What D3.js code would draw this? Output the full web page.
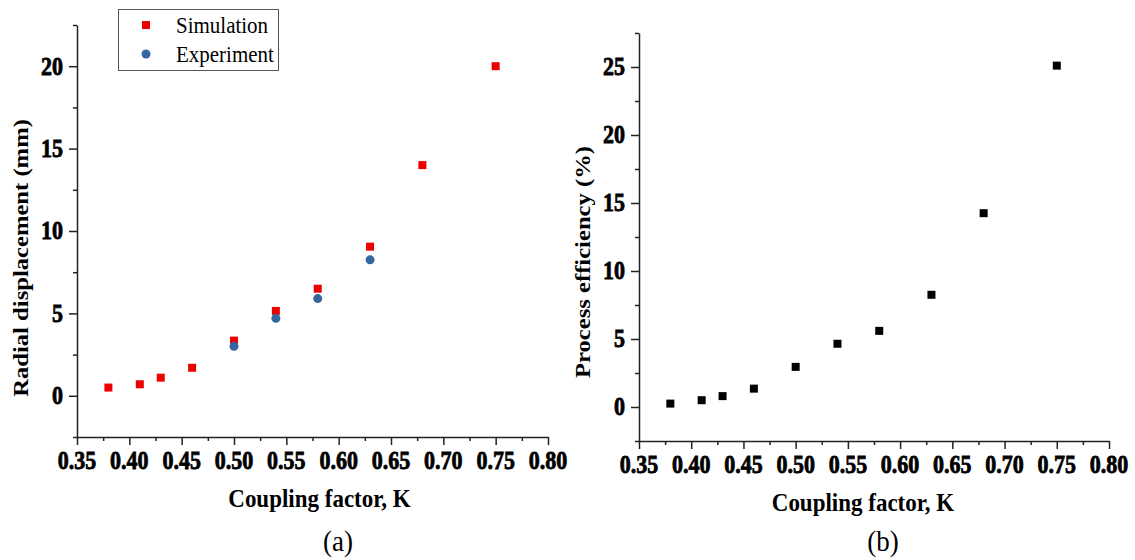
<!DOCTYPE html>
<html>
<head>
<meta charset="utf-8">
<style>
    body { margin: 0; background: #fff; }
    svg text { font-family: "Liberation Serif", "Times New Roman", serif; fill: #000; }
    .axis path, .axis line { stroke: #222; stroke-width: 1.5px; }
    .stretch { transform-box: fill-box; transform-origin: center; transform: scaleY(1.12); }
    .stretchx { transform-box: fill-box; transform-origin: center; transform: scaleX(1.12); }
    .tick-label { font-size: 22px; font-weight: 700; stroke: #000; stroke-width: 0.7px; }
</style>
</head>
<body>
<svg width="1135" height="560"></svg>
<script src="https://d3js.org/d3.v7.min.js"></script>
<script>
    // data
    var couplingK = [0.38, 0.41, 0.43, 0.46, 0.50, 0.54, 0.58, 0.63, 0.68, 0.75];
    var simDisp = [0.5, 0.7, 1.1, 1.7, 3.35, 5.15, 6.5, 9.05, 14.0, 20.0];
    var expK = [0.50, 0.54, 0.58, 0.63];
    var expDisp = [3.0, 4.7, 5.9, 8.25];
    var efficiency = [0.25, 0.5, 0.8, 1.35, 2.95, 4.65, 5.6, 8.25, 14.25, 25.1];

    var xTicks = [0.35, 0.40, 0.45, 0.50, 0.55, 0.60, 0.65, 0.70, 0.75, 0.80];
    var xMinor = [0.375, 0.425, 0.475, 0.525, 0.575, 0.625, 0.675, 0.725, 0.775];
    var dispTicks = [0, 5, 10, 15, 20];
    var dispMinor = [-2.5, 2.5, 7.5, 12.5, 17.5, 22.5];
    var effTicks = [0, 5, 10, 15, 20, 25];
    var effMinor = [-2.5, 2.5, 7.5, 12.5, 17.5, 22.5, 27.5];

    var legendNames = ["Simulation", "Experiment"];
    var legendColors = ["#ee0000", "#34679f"];

    var svg = d3.select("svg");

    function panel(p) {
        var x = d3.scaleLinear().domain([0.35, 0.80]).range([p.left, p.right]);
        var y = d3.scaleLinear().domain(p.yDomain).range([p.bottom, p.top]);
        var g = svg.append("g");

        // minor ticks
        g.append("g").attr("class", "axis")
            .attr("transform", "translate(0," + p.bottom + ")")
            .call(d3.axisBottom(x).tickValues(xMinor).tickSize(4).tickFormat(""))
            .select(".domain").remove();
        g.append("g").attr("class", "axis")
            .attr("transform", "translate(" + p.left + ",0)")
            .call(d3.axisLeft(y).tickValues(p.yMinor).tickSize(4).tickFormat(""))
            .select(".domain").remove();

        // major ticks + axis lines
        g.append("g").attr("class", "axis")
            .attr("transform", "translate(0," + p.bottom + ")")
            .call(d3.axisBottom(x).tickValues(xTicks).tickSizeInner(8).tickSizeOuter(0).tickFormat(""));
        g.append("g").attr("class", "axis")
            .attr("transform", "translate(" + p.left + ",0)")
            .call(d3.axisLeft(y).tickValues(p.yTicks).tickSizeInner(8).tickSizeOuter(0).tickFormat(""));

        // tick labels
        g.append("g").selectAll("text")
            .data(xTicks)
            .enter().append("text")
            .attr("class", "tick-label stretch")
            .attr("x", function(d) { return x(d); })
            .attr("y", p.bottom + 31)
            .attr("text-anchor", "middle")
            .text(d3.format(".2f"));

        g.append("g").selectAll("text")
            .data(p.yTicks)
            .enter().append("text")
            .attr("class", "tick-label stretch")
            .attr("x", p.left - 14)
            .attr("y", function(d) { return y(d); })
            .attr("dy", "0.34em")
            .attr("text-anchor", "end")
            .text(d3.format("d"));

        // axis titles
        g.append("text")
            .attr("class", "stretch")
            .attr("x", (p.left + p.right) / 2 + p.xLabelShift)
            .attr("y", p.bottom + 69)
            .attr("text-anchor", "middle")
            .style("font-size", "23px").style("font-weight", "700")
            .text("Coupling factor, K");

        g.append("g")
            .attr("transform", "translate(" + p.yLabelX + "," + p.yLabelY + ") rotate(-90)")
            .append("text")
            .attr("class", "stretchx")
            .attr("text-anchor", "middle")
            .style("font-size", "22px").style("font-weight", "700")
            .text(p.yLabel);

        g.append("text")
            .attr("class", "stretch")
            .attr("x", p.capX)
            .attr("y", 550)
            .attr("text-anchor", "middle")
            .style("font-size", "27px")
            .text(p.caption);

        return { x: x, y: y, g: g };
    }

    // (a) radial displacement
    var a = panel({
        left: 77, right: 548, top: 25, bottom: 437, yDomain: [-2.5, 22.5],
        yTicks: dispTicks, yMinor: dispMinor, xLabelShift: 7,
        yLabel: "Radial displacement (mm)", yLabelX: 28, yLabelY: 258,
        caption: "(a)", capX: 338
    });

    a.g.append("g").selectAll("rect")
        .data(couplingK)
        .enter().append("rect")
        .attr("x", function(d) { return a.x(d) - 4; })
        .attr("y", function(d, i) { return a.y(simDisp[i]) - 4; })
        .attr("width", 8).attr("height", 8)
        .attr("fill", legendColors[0]);

    a.g.append("g").selectAll("circle")
        .data(expK)
        .enter().append("circle")
        .attr("cx", function(d) { return a.x(d); })
        .attr("cy", function(d, i) { return a.y(expDisp[i]); })
        .attr("r", 4.5)
        .attr("fill", legendColors[1]);

    // legend
    var lg = a.g.append("g");
    lg.append("rect")
        .attr("x", 118.5).attr("y", 9.5).attr("width", 160).attr("height", 61)
        .attr("fill", "#fff").attr("stroke", "#555").attr("stroke-width", 1);
    var item = lg.selectAll("g.item")
        .data(legendNames)
        .enter().append("g")
        .attr("class", "item")
        .attr("transform", function(d, i) { return "translate(146," + (25 + i * 29) + ")"; });
    item.each(function(d, i) {
        var s = d3.select(this);
        if (i === 0) {
            s.append("rect").attr("x", -4).attr("y", -4).attr("width", 8).attr("height", 8)
                .attr("fill", legendColors[i]);
        } else {
            s.append("circle").attr("r", 4.5).attr("fill", legendColors[i]);
        }
    });
    item.append("text")
        .attr("class", "stretch")
        .attr("x", 30)
        .attr("dy", "0.33em")
        .style("font-size", "21px")
        .text(function(d) { return d; });

    // (b) process efficiency
    var b = panel({
        left: 639, right: 1109, top: 33, bottom: 441, yDomain: [-2.5, 27.5],
        yTicks: effTicks, yMinor: effMinor, xLabelShift: -11,
        yLabel: "Process efficiency (%)", yLabelX: 590, yLabelY: 262,
        caption: "(b)", capX: 883
    });

    b.g.append("g").selectAll("rect")
        .data(couplingK)
        .enter().append("rect")
        .attr("x", function(d) { return b.x(d) - 4; })
        .attr("y", function(d, i) { return b.y(efficiency[i]) - 4; })
        .attr("width", 8).attr("height", 8)
        .attr("fill", "#000");
</script>
</body>
</html>
